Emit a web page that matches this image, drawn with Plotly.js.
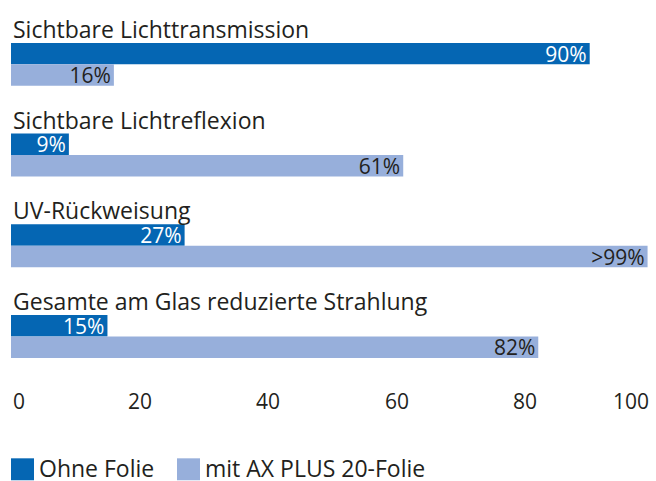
<!DOCTYPE html>
<html>
<head>
<meta charset="utf-8">
<script src="https://cdn.plot.ly/plotly-3.0.1.min.js"></script>
<style>html,body{margin:0;padding:0;background:#fff}#chart{width:656px;height:481px}</style>
</head>
<body>
<div id="chart"></div>
<script>
const categories = ["Sichtbare Lichttransmission", "Sichtbare Lichtreflexion", "UV-Rückweisung", "Gesamte am Glas reduzierte Strahlung"];
const seriesNames = ["Ohne Folie", "mit AX PLUS 20-Folie"];
const ohneFolie = [90, 9, 27, 15];
const mitFolie = [16, 61, 99, 82];
const ohneFolieLabels = ["90%", "9%", "27%", "15%"];
const mitFolieLabels = ["16%", "61%", ">99%", "82%"];
const tickValues = [0, 20, 40, 60, 80, 100];
const tickLabels = ["0", "20", "40", "60", "80", "100"];

const darkBlue = "#0566b3";
const lightBlue = "#97afdb";
const textColor = "#231f20";
const FONT = "'Open Sans', 'Noto Sans', sans-serif";
const FS = 21;      // values and ticks
const FS_LABEL = 23; // category labels and legend

const traces = [
  {
    type: "bar", orientation: "h", name: seriesNames[0],
    y: categories, x: ohneFolie, text: ohneFolieLabels,
    textposition: "inside", insidetextanchor: "end", constraintext: "none",
    textfont: {family: FONT, size: FS, color: "#ffffff"},
    marker: {color: darkBlue}, hoverinfo: "none", showlegend: false
  },
  {
    type: "bar", orientation: "h", name: seriesNames[1],
    y: categories, x: mitFolie, text: mitFolieLabels,
    textposition: "inside", insidetextanchor: "end", constraintext: "none",
    textfont: {family: FONT, size: FS, color: textColor},
    marker: {color: lightBlue}, hoverinfo: "none", showlegend: false
  }
];

const annotations = [];
categories.forEach(c => {
  annotations.push({
    xref: "x", yref: "y", x: 0, y: c, xanchor: "left", yanchor: "middle",
    yshift: 35.5, showarrow: false, text: c,
    font: {family: FONT, size: FS_LABEL, color: textColor}
  });
});
tickValues.forEach((v, i) => {
  const first = i === 0, last = i === tickValues.length - 1;
  annotations.push({
    xref: "x", yref: "paper", x: v, y: 0, yanchor: "middle", yshift: -11,
    xanchor: first ? "left" : (last ? "right" : "center"), xshift: last ? -3 : 0,
    showarrow: false, text: tickLabels[i],
    font: {family: FONT, size: FS, color: textColor}
  });
});

// manual legend (large square swatches)
const legendItems = [
  {name: seriesNames[0], color: darkBlue, x0: 11},
  {name: seriesNames[1], color: lightBlue, x0: 177}
];
const W = 656, H = 481;
const plotBottom = 390.5, plotH = 372, plotW = 643, plotL = 11;
const shapes = [];
legendItems.forEach(it => {
  shapes.push({
    type: "rect", xref: "paper", yref: "paper", layer: "above",
    x0: (it.x0 - plotL) / plotW, x1: (it.x0 + 23 - plotL) / plotW,
    y0: -(481 - plotBottom) / plotH, y1: -(459 - plotBottom) / plotH,
    fillcolor: it.color, line: {width: 0}
  });
  annotations.push({
    xref: "paper", yref: "paper", x: (it.x0 + 26 - plotL) / plotW, y: -(468.5 - plotBottom) / plotH,
    xanchor: "left", yanchor: "middle", showarrow: false, text: it.name,
    font: {family: FONT, size: FS_LABEL, color: textColor}
  });
});

const layout = {
  width: W, height: H,
  margin: {l: plotL, r: 2, t: 18.5, b: 90.5, pad: 0},
  paper_bgcolor: "#ffffff", plot_bgcolor: "#ffffff",
  barmode: "group", bargap: 0.527, bargroupgap: 0,
  xaxis: {range: [0, 100], showgrid: false, zeroline: false, showline: false,
          showticklabels: false, ticks: "", fixedrange: true},
  yaxis: {type: "category", autorange: "reversed", showgrid: false, zeroline: false,
          showline: false, showticklabels: false, ticks: "", fixedrange: true},
  showlegend: false,
  annotations: annotations, shapes: shapes,
  font: {family: FONT, size: FS, color: textColor}
};

Plotly.newPlot("chart", traces, layout, {displayModeBar: false, staticPlot: true});
</script>
</body>
</html>
